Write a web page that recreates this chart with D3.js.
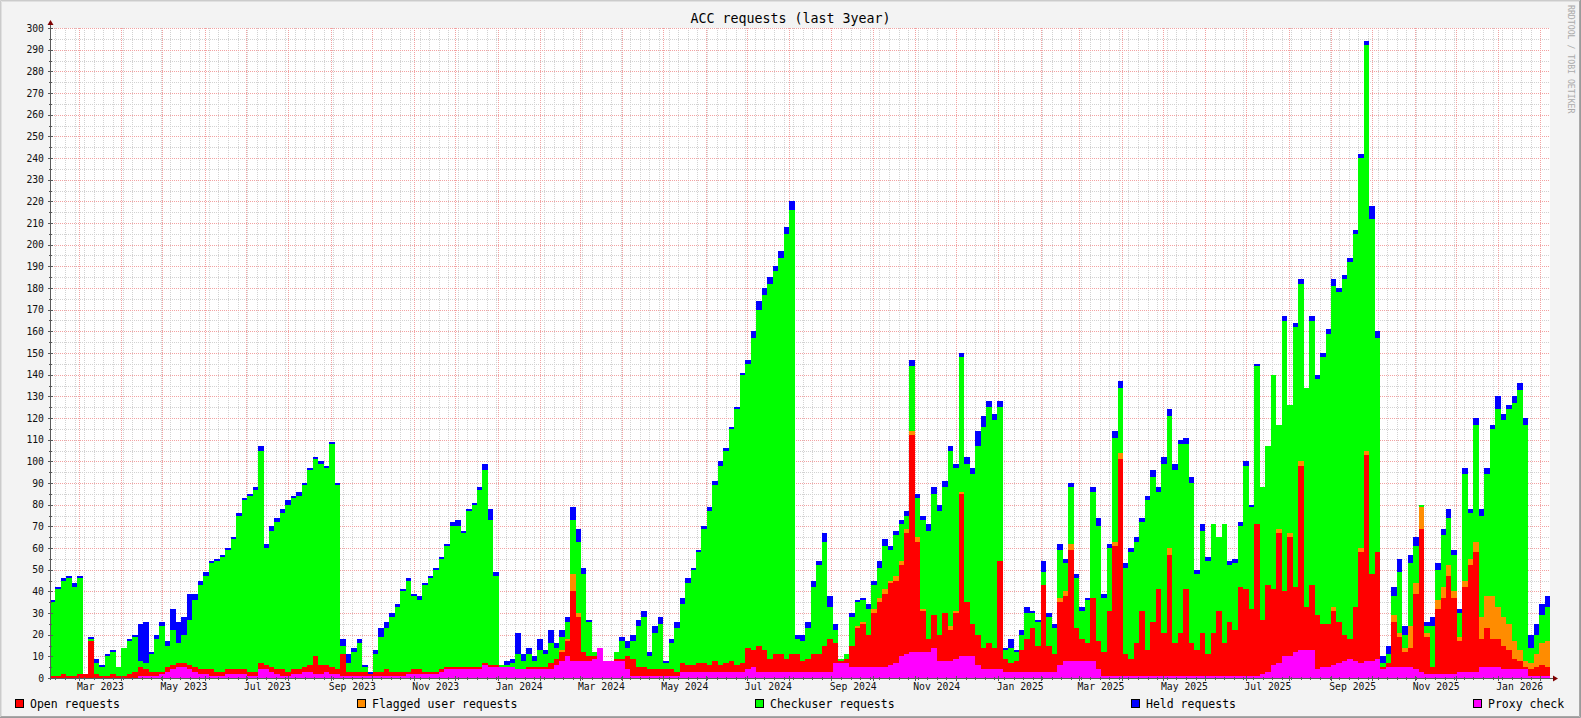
<!DOCTYPE html>
<html><head><meta charset="utf-8">
<script src="https://cdn.jsdelivr.net/npm/d3@7"></script>
<style>
html,body{margin:0;padding:0;background:#f3f3f3;}
svg{display:block;}
text{font-family:"DejaVu Sans Mono",monospace;}
</style>
</head><body>
<svg id="chart" width="1581" height="718"></svg>
<script>
// ---------- data (4-day steps from startDate) ----------
const chartTitle = "ACC requests (last 3year)";
const startDate = "2023-02-08";
const endDate = "2026-02-08";
const stepDays = 4;
const seriesNames = ["Open requests","Flagged user requests","Checkuser requests","Held requests","Proxy check"];
const seriesColors = ["#ff0000","#ff8c00","#00ff00","#0000ff","#ff00ff"];

const proxy = [
0,0,0,0,0,0,0,0,0,0, 0,0,0,0,0,0,1,1,1,1, 2,3,4,5,5,4,3,2,2,1, 1,1,2,2,2,2,1,1,4,4,
3,2,1,1,2,2,3,3,2,2, 3,2,2,1,1,1,1,1,1,1, 1,1,1,1,1,2,2,2,2,2, 2,3,4,4,4,4,4,4,4,6,
5,5,5,5,5,4,4,4,4,4, 4,4,6,8,10,8,8,8,8,9, 14,8,8,8,8,4,1,1,1,1, 1,1,1,1,1,3,3,3,3,3,
3,3,3,3,3,3,3,4,5,3, 3,3,3,3,3,3,3,3,3,3, 3,3,3,7,7,7,5,5,5,5, 5,5,5,6,7,10,11,12,12,12,
12,14,8,8,8,9,10,10,10,6, 4,4,4,4,3,3,3,3,3,3, 3,3,3,3,6,8,8,8,8,8, 8,4,1,1,1,1,1,1,1,1,
1,1,1,1,1,1,1,1,1,1, 1,1,1,1,1,1,1,1,1,1, 1,2,3,6,7,10,10,12,13,13, 13,4,5,5,6,7,8,9,8,7,
8,8,9,4,5,5,5,5,5,4, 3,2,2,2,2,2,2,3,3,3, 3,5,5,5,5,4,4,4,4,4, 1,1,1,1];

const open = [
1,1,2,1,1,2,2,17,2,1, 1,2,1,1,2,3,4,3,2,2, 1,2,2,2,2,2,2,2,2,3, 2,2,2,2,2,2,2,2,3,2,
2,2,3,2,2,2,2,3,8,4, 3,3,2,10,2,2,2,2,1,2, 2,3,2,2,2,1,2,2,1,1, 1,1,1,1,1,1,1,1,1,1,
1,1,0,0,0,0,0,1,1,1, 1,3,3,4,7,32,20,4,2,1, 0,0,0,1,1,6,8,4,4,3, 3,3,3,3,2,4,3,3,4,4,
3,5,3,4,5,3,4,10,8,12, 10,6,8,8,6,8,8,5,6,8, 8,12,15,9,1,2,10,18,20,15, 25,30,34,38,38,42,56,100,51,19,
6,15,12,22,14,21,75,25,15,14, 10,12,10,50,6,4,5,10,15,20, 12,40,12,8,29,30,51,15,10,8, 29,13,11,30,60,100,10,8,15,30,
12,25,40,20,56,15,20,40,15,12, 20,10,20,30,15,25,21,41,40,31, 70,25,40,35,60,30,55,30,85,20, 30,25,20,20,25,19,12,9,25,51,
95,40,49,1,2,21,14,7,9,35, 66,17,3,30,35,45,35,14,39,49, 55,13,18,13,13,11,9,5,4,1, 3,4,5,4];

const flagged = [
0,0,0,0,0,0,0,0,0,0, 0,0,0,0,0,0,0,0,0,0, 0,0,0,0,0,0,0,0,0,0, 0,0,0,0,0,0,0,0,0,0,
0,0,0,0,0,0,0,0,0,0, 0,0,0,0,0,0,0,0,0,0, 0,0,0,0,0,0,0,0,0,0, 0,0,0,0,0,0,0,0,0,0,
0,0,0,0,0,0,0,0,0,0, 0,0,0,1,1,8,2,0,0,0, 0,0,0,0,0,0,0,0,0,0, 0,0,0,0,0,0,0,0,0,0,
0,0,0,0,0,0,0,0,0,0, 0,0,0,0,0,0,0,0,0,0, 0,0,0,0,0,0,0,1,1,0, 2,2,2,1,2,2,2,2,2,1,
0,0,0,0,2,1,1,0,0,0, 0,0,0,0,0,0,0,0,0,0, 0,0,0,0,2,2,3,0,0,0, 0,0,0,0,2,3,0,0,0,0,
0,0,0,0,3,0,0,0,0,0, 0,0,0,0,0,0,0,0,0,0, 0,0,0,0,2,0,2,0,2,0, 0,0,0,0,2,0,0,0,0,2,
2,0,0,0,0,3,2,2,10,5, 10,2,0,4,5,5,3,2,3,3, 5,10,15,20,15,13,12,8,5,3, 3,6,10,12];

const checkuser = [
34,40,43,45,41,44,0,1,5,4, 9,10,4,13,15,16,3,3,8,15, 21,10,16,9,13,21,31,39,43,49, 51,53,55,60,71,78,81,84,98,54,
63,68,72,77,79,80,84,90,91,93, 91,103,85,4,4,9,13,2,0,8, 16,19,25,30,37,42,34,32,40,43, 47,51,56,65,65,62,72,75,82,89,
67,41,1,1,2,7,4,6,3,8, 6,9,5,6,8,25,33,36,16,2, 0,0,0,3,8,4,8,19,23,6, 17,21,3,12,20,27,38,44,51,62,
71,81,92,98,107,118,133,131,144,155, 164,173,177,183,196,205,7,9,14,31, 41,48,15,6,1,2,13,11,10,12, 11,14,20,14,19,17,6,30,18,41,
50,56,57,58,81,66,62,64,69,87, 102,109,105,71,4,7,4,7,12,7, 11,6,13,12,22,13,26,23,13,20, 49,53,25,29,48,30,40,49,47,41,
69,67,45,78,61,80,87,67,74,35, 47,43,50,34,55,26,31,28,57,47, 73,61,64,99,48,125,59,120,82,101, 122,109,123,134,148,152,164,174,172,180,
187,164,99,2,4,9,28,6,29,17, 1,3,19,14,24,22,17,11,49,21, 54,47,56,77,91,91,99,110,120,109, 7,9,13,16];

const held = [
1,1,1,1,2,1,0,1,2,1, 1,1,0,0,1,1,17,19,1,2, 2,2,10,10,8,12,3,2,2,1, 1,1,1,1,1,1,1,1,2,2,
2,2,2,2,1,2,1,1,1,1, 1,1,1,3,4,2,2,1,1,2, 4,3,2,1,1,1,1,2,1,1, 1,1,1,2,3,1,1,1,1,3,
5,2,0,2,2,10,3,3,2,5, 2,6,2,3,2,6,6,3,1,0, 0,0,0,0,2,3,3,3,3,2, 3,3,1,2,3,3,2,1,1,1,
2,2,2,1,1,1,1,2,3,4, 3,3,2,3,3,4,2,3,3,3, 2,4,5,3,0,0,2,1,1,2, 2,3,3,2,2,2,2,3,2,2,
3,3,3,3,2,2,2,3,3,7, 5,3,3,3,1,4,1,2,3,1, 1,5,2,2,3,2,2,2,2,1, 2,4,2,2,3,3,2,2,2,2,
2,3,2,3,3,3,2,3,3,2, 3,2,0,0,0,2,2,2,2,1, 1,0,0,0,0,2,0,2,2,0, 2,2,2,2,3,2,2,2,2,2,
2,6,3,3,4,4,6,4,4,4, 0,2,4,3,3,4,2,2,3,2, 3,3,3,2,6,3,2,3,3,3, 6,5,5,5];

const yTicks = [0,10,20,30,40,50,60,70,80,90,100,110,120,130,140,150,160,170,180,190,200,210,220,230,240,250,260,270,280,290,300];
const xLabels = ["Mar 2023","May 2023","Jul 2023","Sep 2023","Nov 2023","Jan 2024","Mar 2024","May 2024","Jul 2024","Sep 2024","Nov 2024","Jan 2025","Mar 2025","May 2025","Jul 2025","Sep 2025","Nov 2025","Jan 2026"];
const watermark = "RRDTOOL / TOBI OETIKER";

// ---------- drawing ----------
const W = 1581, H = 718;
const L = 50, R = 1550, T = 28, B = 678;
const svg = d3.select("#chart");
const parse = d3.utcParse("%Y-%m-%d");
const t0 = parse(startDate), t1 = parse(endDate);
const x = d3.scaleUtc().domain([t0, t1]).range([L, R]);
const y = d3.scaleLinear().domain([0, 300]).range([B, T]);
const px = v => Math.round(v) + 0.5;

// background + 3D frame
svg.append("rect").attr("x",0).attr("y",0).attr("width",W).attr("height",H).attr("fill","#f3f3f3");
svg.append("path").attr("d",`M0.5,${H-1}V0.5H${W-1}`).attr("fill","none").attr("stroke","#cbcbcb").attr("stroke-width",1);
svg.append("path").attr("d",`M1.5,${H-2}V1.5H${W-2}`).attr("fill","none").attr("stroke","#e0e0e0").attr("stroke-width",1);
svg.append("path").attr("d",`M${W-0.5},0V${H-0.5}H0`).attr("fill","none").attr("stroke","#9a9a9a").attr("stroke-width",1);
svg.append("path").attr("d",`M${W-1.5},1V${H-1.5}H1`).attr("fill","none").attr("stroke","#a8a8a8").attr("stroke-width",1);

// canvas
svg.append("rect").attr("x",L).attr("y",T).attr("width",R-L).attr("height",B-T).attr("fill","#ffffff");

// grid
const grid = svg.append("g").attr("shape-rendering","crispEdges").attr("stroke-dasharray","1,1").attr("stroke-width",1);
const weeks = d3.utcSunday.range(t0, t1);
const months = d3.utcMonth.range(d3.utcDay.offset(t0,1), t1);
grid.selectAll(".wk").data(weeks).join("line")
  .attr("x1",d=>px(x(d))).attr("x2",d=>px(x(d))).attr("y1",T).attr("y2",B).attr("stroke","#d2d2d2");
grid.selectAll(".hm").data(d3.range(5,300,10)).join("line")
  .attr("x1",L).attr("x2",R).attr("y1",d=>px(y(d))).attr("y2",d=>px(y(d))).attr("stroke","#d2d2d2");
grid.selectAll(".mo").data(months).join("line")
  .attr("x1",d=>px(x(d))).attr("x2",d=>px(x(d))).attr("y1",T).attr("y2",B).attr("stroke","#f2a2a2");
grid.selectAll(".hM").data(yTicks.filter(v=>v>0)).join("line")
  .attr("x1",L).attr("x2",R).attr("y1",d=>px(y(d))).attr("y2",d=>px(y(d))).attr("stroke","#f2a2a2");

// stacked data
const keys = ["proxy","open","flagged","checkuser","held"];
const keyColor = {open:seriesColors[0], flagged:seriesColors[1], checkuser:seriesColors[2], held:seriesColors[3], proxy:seriesColors[4]};
const src = {proxy, open, flagged, checkuser, held};
const rows = proxy.map((_,i)=>{
  const r = {date: d3.utcDay.offset(t0, i*stepDays)};
  keys.forEach(k=>r[k]=src[k][i]);
  return r;
});
rows.push(Object.assign({}, rows[rows.length-1], {date:t1}));
const stacked = d3.stack().keys(keys)(rows);
const area = d3.area().curve(d3.curveStepAfter)
  .x(d=>x(d.data.date)).y0(d=>y(d[0])).y1(d=>y(d[1]));
svg.append("g").attr("shape-rendering","crispEdges")
  .selectAll("path").data(stacked).join("path")
  .attr("d",area).attr("fill",d=>keyColor[d.key]);

// axes lines, ticks, arrows
const axisColor = "#5a5a5a";
svg.append("line").attr("x1",L+0.5).attr("x2",L+0.5).attr("y1",B+2).attr("y2",T-4).attr("stroke",axisColor);
svg.append("line").attr("x1",L-2).attr("x2",R+3).attr("y1",B+0.5).attr("y2",B+0.5).attr("stroke",axisColor);
svg.append("path").attr("d",`M${L-2.5},${T-3}L${L+3.5},${T-3}L${L+0.5},${T-8}Z`).attr("fill","#7f0000");
svg.append("path").attr("d",`M${R+3},${B-2.5}L${R+3},${B+3.5}L${R+8},${B+0.5}Z`).attr("fill","#7f0000");

const tk = svg.append("g").attr("shape-rendering","crispEdges").attr("stroke",axisColor);
tk.selectAll(".ty").data(d3.range(5,305,5)).join("line")
  .attr("x1",d=>d%10===0?L-2:L-1).attr("x2",d=>d%10===0?L+3:L+2)
  .attr("y1",d=>px(y(d))).attr("y2",d=>px(y(d)));
tk.selectAll(".tw").data(weeks).join("line")
  .attr("x1",d=>px(x(d))).attr("x2",d=>px(x(d))).attr("y1",B-1).attr("y2",B+2);
tk.selectAll(".tm").data(months).join("line")
  .attr("x1",d=>px(x(d))).attr("x2",d=>px(x(d))).attr("y1",B-2).attr("y2",B+3);

// axis labels via d3 axes
const yAxis = d3.axisLeft(y).tickValues(yTicks).tickSize(0).tickPadding(6).tickFormat(d3.format("d"));
const gy = svg.append("g").attr("transform",`translate(${L},0)`).call(yAxis);
gy.select(".domain").remove();
gy.selectAll("text").attr("font-family","DejaVu Sans Mono").attr("font-size","9.75px").attr("fill","#111");

const parseLab = d3.utcParse("%b %Y");
const labelDates = xLabels.map(s=>d3.utcHour.offset(parseLab(s), 372));
const xAxis = d3.axisBottom(x).tickValues(labelDates).tickSize(0).tickPadding(5).tickFormat((d,i)=>xLabels[i]);
const gx = svg.append("g").attr("transform",`translate(0,${B})`).call(xAxis);
gx.select(".domain").remove();
gx.selectAll("text").attr("font-family","DejaVu Sans Mono").attr("font-size","9.75px").attr("fill","#111");

// title
svg.append("text").attr("x",W/2).attr("y",22.5).attr("text-anchor","middle")
  .attr("font-size","13.3px").attr("fill","#000").text(chartTitle);

// watermark
svg.append("text").attr("transform","translate(1568,5) rotate(90)")
  .attr("font-size","8.2px").attr("fill","#aaaaaa").text(watermark);

// legend
const legendX = [15, 357, 755, 1131, 1473];
const lg = svg.append("g");
seriesNames.forEach((name,i)=>{
  lg.append("rect").attr("x",legendX[i]+0.5).attr("y",699.5).attr("width",8).attr("height",8)
    .attr("fill",seriesColors[i]).attr("stroke","#000").attr("stroke-width",1).attr("shape-rendering","crispEdges");
  lg.append("text").attr("x",legendX[i]+15).attr("y",708).attr("font-size","11.5px").attr("fill","#000").text(name);
});
</script>
</body></html>
